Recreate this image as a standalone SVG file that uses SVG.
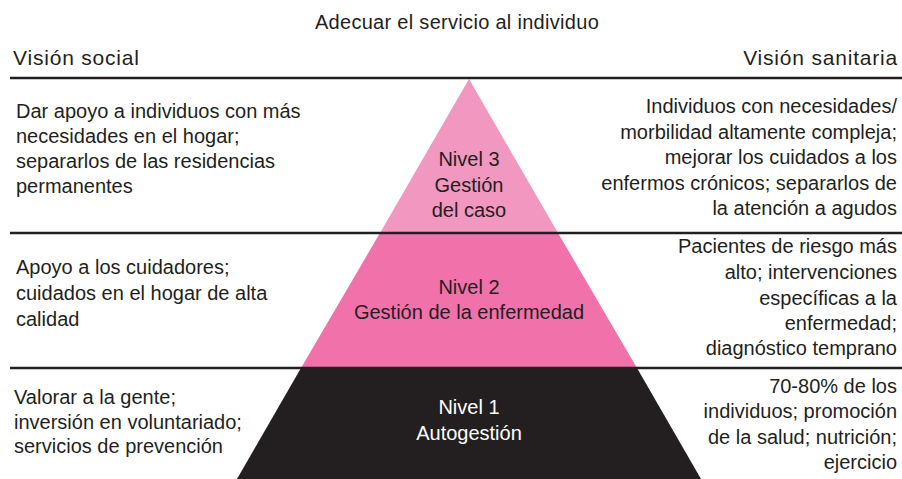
<svg xmlns="http://www.w3.org/2000/svg" width="902" height="479" viewBox="0 0 902 479">
<style>
text{font-family:"Liberation Sans",Arial,sans-serif;font-size:20px;fill:#231F20}
.l{text-anchor:start}
.r{text-anchor:end}
.c{text-anchor:middle}
.w{fill:#ffffff}
.h{font-size:21px;letter-spacing:0.8px}
.t{letter-spacing:0.3px}
.rule{stroke:#231F20;stroke-width:2.5;fill:none}
</style>
<rect width="902" height="479" fill="#ffffff"/>
<g id="level3">
<polygon points="469,79 380,233 558,233" fill="#F197C0"/>
<text class="c" x="469" y="166">Nivel 3</text>
<text class="c" x="469" y="192">Gestión</text>
<text class="c" x="469" y="217">del caso</text>
</g>
<g id="level2">
<polygon points="380,233 558,233 637,368 301,368" fill="#F172AB"/>
<text class="c" x="469" y="294">Nivel 2</text>
<text class="c" x="469" y="319">Gestión de la enfermedad</text>
</g>
<g id="level1">
<polygon points="301,368 637,368 701,479 237,479" fill="#231F20"/>
<text class="c w" x="469" y="414">Nivel 1</text>
<text class="c w" x="469" y="440">Autogestión</text>
</g>
<g id="connectors">
<line class="rule" x1="10" y1="78" x2="902" y2="78"/>
<line class="rule" x1="10" y1="233" x2="902" y2="233"/>
<line class="rule" x1="10" y1="368" x2="902" y2="368"/>
</g>
<g id="header">
<text class="c t" x="457" y="29">Adecuar el servicio al individuo</text>
<text class="l h" x="13" y="65">Visión social</text>
<text class="r h" x="898" y="65">Visión sanitaria</text>
</g>
<g id="social3">
<text class="l" x="16" y="117.5">Dar apoyo a individuos con más</text>
<text class="l" x="16" y="142.5">necesidades en el hogar;</text>
<text class="l" x="16" y="167.5">separarlos de las residencias</text>
<text class="l" x="16" y="192.5">permanentes</text>
</g>
<g id="social2">
<text class="l" x="16" y="274">Apoyo a los cuidadores;</text>
<text class="l" x="16" y="300">cuidados en el hogar de alta</text>
<text class="l" x="16" y="326">calidad</text>
</g>
<g id="social1">
<text class="l" x="14" y="404">Valorar a la gente;</text>
<text class="l" x="14" y="428.5">inversión en voluntariado;</text>
<text class="l" x="14" y="453">servicios de prevención</text>
</g>
<g id="health3">
<text class="r" x="897" y="113">Individuos con necesidades/</text>
<text class="r" x="897" y="138.5">morbilidad altamente compleja;</text>
<text class="r" x="897" y="164">mejorar los cuidados a los</text>
<text class="r" x="897" y="189.5">enfermos crónicos; separarlos de</text>
<text class="r" x="897" y="215">la atención a agudos</text>
</g>
<g id="health2">
<text class="r" x="897" y="253">Pacientes de riesgo más</text>
<text class="r" x="897" y="279">alto; intervenciones</text>
<text class="r" x="897" y="304.5">específicas a la</text>
<text class="r" x="897" y="330">enfermedad;</text>
<text class="r" x="897" y="355">diagnóstico temprano</text>
</g>
<g id="health1">
<text class="r" x="897" y="393">70-80% de los</text>
<text class="r" x="897" y="418">individuos; promoción</text>
<text class="r" x="897" y="444">de la salud; nutrición;</text>
<text class="r" x="897" y="469">ejercicio</text>
</g>
</svg>
